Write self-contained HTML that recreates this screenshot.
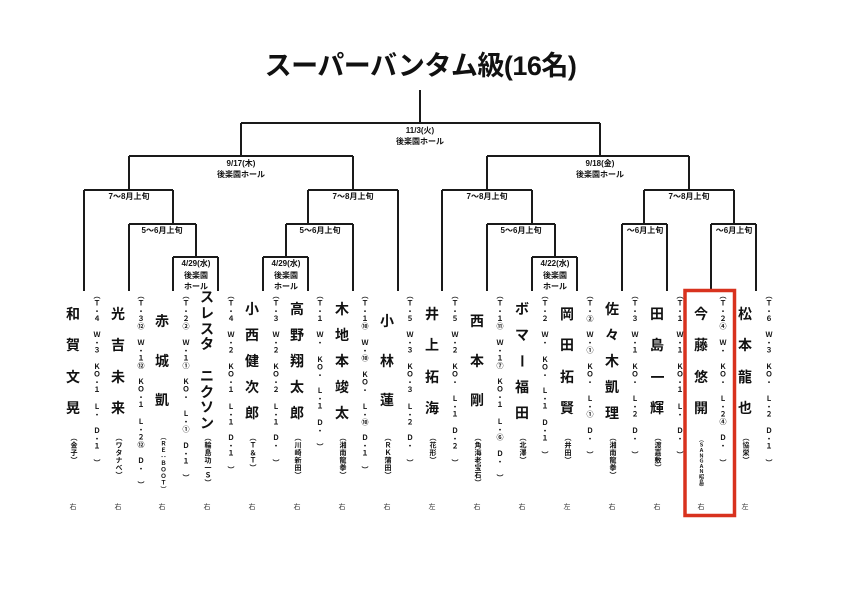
<!DOCTYPE html>
<html><head><meta charset="utf-8">
<style>
html,body{margin:0;padding:0;background:#fff;}
#c{position:relative;width:841px;height:595px;overflow:hidden;background:#fff;font-family:"Liberation Sans","Noto Sans CJK JP",sans-serif;color:#111;}
.t{position:absolute;left:0;width:841px;top:48px;text-align:center;font-weight:bold;font-size:27px;line-height:36px;letter-spacing:-0.5px;}
.lb{position:absolute;width:120px;margin-left:-60px;text-align:center;font-weight:bold;font-size:8px;line-height:11px;}
.nm{position:absolute;width:20px;margin-left:-10px;display:flex;flex-direction:column;justify-content:space-between;align-items:center;font-weight:bold;font-size:14px;line-height:15px;}
.nm span{display:block;height:15px;}
.v{writing-mode:vertical-rl;}
.af{position:absolute;top:434px;width:10px;margin-left:-5px;writing-mode:vertical-rl;text-orientation:mixed;font-weight:bold;font-size:7px;line-height:10px;letter-spacing:0.5px;}
.rc{position:absolute;top:292px;width:10px;margin-left:-5px;display:flex;flex-direction:column;align-items:center;gap:9px;}
.rc div{writing-mode:vertical-rl;text-orientation:mixed;font-weight:bold;font-size:7px;line-height:10px;letter-spacing:0.6px;}
.bt{position:absolute;top:503px;width:14px;margin-left:-7px;text-align:center;font-size:7px;line-height:10px;color:#333;}
</style></head><body><div id="c">
<div class="t">スーパーバンタム級(16名)</div>
<svg width="841" height="595" style="position:absolute;left:0;top:0" fill="none" stroke="#1a1a1a" stroke-width="2">
<path d="M420 90V123M241 123H600M241 123V156M600 123V156"/>
<path d="M129 156H353M129 156V190M353 156V190M487 156H689M487 156V190M689 156V190"/>
<path d="M84 190H173M84 190V291M173 190V224M308 190H398M308 190V224M398 190V291"/>
<path d="M442 190H532M442 190V291M532 190V224M644 190H734M644 190V224M734 190V224"/>
<path d="M129 224H196M129 224V291M196 224V257M286 224H353M286 224V257M353 224V291"/>
<path d="M487 224H555M487 224V291M555 224V257M622 224H667M622 224V291M667 224V291M711 224H756M711 224V291M756 224V291"/>
<path d="M173 257H218M173 257V291M218 257V291M263 257H308M263 257V291M308 257V291M532 257H577M532 257V291M577 257V291"/>
<rect x="685" y="290.5" width="49.5" height="225" stroke="#d8321e" stroke-width="3.5"/>
</svg>
<div class="lb" style="left:420px;top:125px">11/3(火)<br>後楽園ホール</div>
<div class="lb" style="left:241px;top:158px">9/17(木)<br>後楽園ホール</div>
<div class="lb" style="left:600px;top:158px">9/18(金)<br>後楽園ホール</div>
<div class="lb" style="left:129px;top:191px">7～8月上旬</div>
<div class="lb" style="left:353px;top:191px">7～8月上旬</div>
<div class="lb" style="left:487px;top:191px">7～8月上旬</div>
<div class="lb" style="left:689px;top:191px">7～8月上旬</div>
<div class="lb" style="left:162px;top:225px">5～6月上旬</div>
<div class="lb" style="left:320px;top:225px">5～6月上旬</div>
<div class="lb" style="left:521px;top:225px">5～6月上旬</div>
<div class="lb" style="left:645px;top:225px">～6月上旬</div>
<div class="lb" style="left:734px;top:225px">～6月上旬</div>
<div class="lb" style="left:196px;top:258px;line-height:11.5px">4/29(水)<br>後楽園<br>ホール</div>
<div class="lb" style="left:286px;top:258px;line-height:11.5px">4/29(水)<br>後楽園<br>ホール</div>
<div class="lb" style="left:555px;top:258px;line-height:11.5px">4/22(水)<br>後楽園<br>ホール</div>

<!-- names -->
<div class="nm" style="left:73px;top:307px;height:109px"><span>和</span><span>賀</span><span>文</span><span>晃</span></div>
<div class="nm" style="left:118px;top:307px;height:109px"><span>光</span><span>吉</span><span>未</span><span>来</span></div>
<div class="nm" style="left:162px;top:314px;height:94px"><span>赤</span><span>城</span><span>凱</span></div>
<div class="nm" style="left:207px;top:290px;height:141px"><span>ス</span><span>レ</span><span>ス</span><span>タ</span><span>&nbsp;</span><span>ニ</span><span>ク</span><span>ソ</span><span>ン</span></div>
<div class="nm" style="left:252px;top:302px;height:119px"><span>小</span><span>西</span><span>健</span><span>次</span><span>郎</span></div>
<div class="nm" style="left:297px;top:302px;height:119px"><span>高</span><span>野</span><span>翔</span><span>太</span><span>郎</span></div>
<div class="nm" style="left:342px;top:302px;height:119px"><span>木</span><span>地</span><span>本</span><span>竣</span><span>太</span></div>
<div class="nm" style="left:387px;top:314px;height:94px"><span>小</span><span>林</span><span>蓮</span></div>
<div class="nm" style="left:432px;top:307px;height:109px"><span>井</span><span>上</span><span>拓</span><span>海</span></div>
<div class="nm" style="left:477px;top:314px;height:94px"><span>西</span><span>本</span><span>剛</span></div>
<div class="nm" style="left:522px;top:302px;height:119px"><span>ボ</span><span>マ</span><span class="v">ー</span><span>福</span><span>田</span></div>
<div class="nm" style="left:567px;top:307px;height:109px"><span>岡</span><span>田</span><span>拓</span><span>賢</span></div>
<div class="nm" style="left:612px;top:302px;height:119px"><span>佐</span><span>々</span><span>木</span><span>凱</span><span>理</span></div>
<div class="nm" style="left:657px;top:307px;height:109px"><span>田</span><span>島</span><span class="v">一</span><span>輝</span></div>
<div class="nm" style="left:701px;top:307px;height:109px"><span>今</span><span>藤</span><span>悠</span><span>開</span></div>
<div class="nm" style="left:745px;top:307px;height:109px"><span>松</span><span>本</span><span>龍</span><span>也</span></div>

<!-- affiliations -->
<div class="af" style="left:73px">（金子）</div>
<div class="af" style="left:118px">（ワタナベ）</div>
<div class="af" style="left:162px;font-size:6px">（ＲＥ：ＢＯＯＴ）</div>
<div class="af" style="left:207px">（輪島功一Ｓ）</div>
<div class="af" style="left:252px">（Ｔ＆Ｔ）</div>
<div class="af" style="left:297px">（川崎新田）</div>
<div class="af" style="left:342px">（湘南龍拳）</div>
<div class="af" style="left:387px">（ＲＫ蒲田）</div>
<div class="af" style="left:432px">（花形）</div>
<div class="af" style="left:477px">（角海老宝石）</div>
<div class="af" style="left:522px">（北澤）</div>
<div class="af" style="left:567px">（井田）</div>
<div class="af" style="left:612px">（湘南龍拳）</div>
<div class="af" style="left:657px">（渡嘉敷）</div>
<div class="af" style="left:701px;top:437px;font-size:5px;letter-spacing:0.3px">（ＳＡＮＧＡＮ昭島）</div>
<div class="af" style="left:745px">（協栄）</div>

<!-- records -->
<div class="rc" style="left:96px"><div>（Ｔ・４</div><div>Ｗ・３</div><div>ＫＯ・１</div><div>Ｌ・</div><div>Ｄ・１</div><div>）</div></div>
<div class="rc" style="left:140px"><div>（Ｔ・３⑫</div><div>Ｗ・１⑫</div><div>ＫＯ・１</div><div>Ｌ・２⑫</div><div>Ｄ・</div><div>）</div></div>
<div class="rc" style="left:185px"><div>（Ｔ・２②</div><div>Ｗ・１①</div><div>ＫＯ・</div><div>Ｌ・①</div><div>Ｄ・１</div><div>）</div></div>
<div class="rc" style="left:230px"><div>（Ｔ・４</div><div>Ｗ・２</div><div>ＫＯ・１</div><div>Ｌ・１</div><div>Ｄ・１</div><div>）</div></div>
<div class="rc" style="left:275px"><div>（Ｔ・３</div><div>Ｗ・２</div><div>ＫＯ・２</div><div>Ｌ・１</div><div>Ｄ・</div><div>）</div></div>
<div class="rc" style="left:319px"><div>（Ｔ・１</div><div>Ｗ・</div><div>ＫＯ・</div><div>Ｌ・１</div><div>Ｄ・</div><div>）</div></div>
<div class="rc" style="left:364px"><div>（Ｔ・１⑩</div><div>Ｗ・⑩</div><div>ＫＯ・</div><div>Ｌ・⑩</div><div>Ｄ・１</div><div>）</div></div>
<div class="rc" style="left:409px"><div>（Ｔ・５</div><div>Ｗ・３</div><div>ＫＯ・３</div><div>Ｌ・２</div><div>Ｄ・</div><div>）</div></div>
<div class="rc" style="left:454px"><div>（Ｔ・５</div><div>Ｗ・２</div><div>ＫＯ・</div><div>Ｌ・１</div><div>Ｄ・２</div><div>）</div></div>
<div class="rc" style="left:499px"><div>（Ｔ・１⑪</div><div>Ｗ・１⑦</div><div>ＫＯ・１</div><div>Ｌ・⑥</div><div>Ｄ・</div><div>）</div></div>
<div class="rc" style="left:544px"><div>（Ｔ・２</div><div>Ｗ・</div><div>ＫＯ・</div><div>Ｌ・１</div><div>Ｄ・１</div><div>）</div></div>
<div class="rc" style="left:589px"><div>（Ｔ・②</div><div>Ｗ・①</div><div>ＫＯ・</div><div>Ｌ・①</div><div>Ｄ・</div><div>）</div></div>
<div class="rc" style="left:634px"><div>（Ｔ・３</div><div>Ｗ・１</div><div>ＫＯ・</div><div>Ｌ・２</div><div>Ｄ・</div><div>）</div></div>
<div class="rc" style="left:679px"><div>（Ｔ・１</div><div>Ｗ・１</div><div>ＫＯ・１</div><div>Ｌ・</div><div>Ｄ・</div><div>）</div></div>
<div class="rc" style="left:722px"><div>（Ｔ・２④</div><div>Ｗ・</div><div>ＫＯ・</div><div>Ｌ・２④</div><div>Ｄ・</div><div>）</div></div>
<div class="rc" style="left:768px"><div>（Ｔ・６</div><div>Ｗ・３</div><div>ＫＯ・</div><div>Ｌ・２</div><div>Ｄ・１</div><div>）</div></div>

<!-- bottom -->
<div class="bt" style="left:73px">右</div>
<div class="bt" style="left:118px">右</div>
<div class="bt" style="left:162px">右</div>
<div class="bt" style="left:207px">右</div>
<div class="bt" style="left:252px">右</div>
<div class="bt" style="left:297px">右</div>
<div class="bt" style="left:342px">右</div>
<div class="bt" style="left:387px">右</div>
<div class="bt" style="left:432px">左</div>
<div class="bt" style="left:477px">右</div>
<div class="bt" style="left:522px">右</div>
<div class="bt" style="left:567px">左</div>
<div class="bt" style="left:612px">右</div>
<div class="bt" style="left:657px">右</div>
<div class="bt" style="left:701px">右</div>
<div class="bt" style="left:745px">左</div>
</div></body></html>
